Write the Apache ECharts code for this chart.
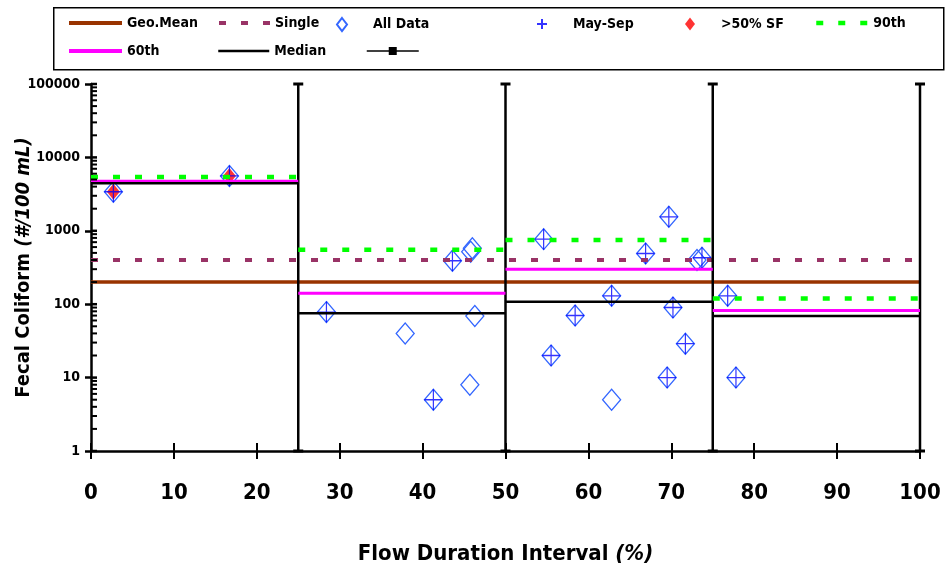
<!DOCTYPE html>
<html>
<head>
<meta charset="utf-8">
<script src="https://cdn.jsdelivr.net/npm/echarts@6/dist/echarts.min.js"></script>
<style>
  html, body { margin: 0; padding: 0; background: #fff; }
  #chart { width: 945px; height: 574px; }
</style>
</head>
<body>
<div id="chart"></div>
<script>
// Flow duration interval boundaries (%)
const intervalEdges = [0, 25, 50, 75, 100];

// Interval statistics (#/100 mL), one value per interval
const p90Values = [5400, 550, 750, 120];
const p60Values = [4750, 141, 300, 82];
const medianValues = [4450, 75, 108, 69];

// Whole-record criteria lines
const geoMeanCriterion = 200;
const singleCriterion = 400;

// Individual samples: flow duration interval (%) and fecal coliform count
const sampleFlow  = [2.7, 16.7, 28.4, 37.9, 41.3, 43.6, 45.7, 45.8, 46.0, 46.3, 54.6, 55.5, 58.4, 62.8, 62.8, 66.9, 69.5, 69.7, 70.2, 71.7, 73.1, 73.7, 76.8, 77.8];
const sampleCount = [3400, 5600, 78, 40, 5, 390, 8, 520, 580, 69, 770, 20, 70, 130, 5, 490, 10, 1550, 90, 29, 400, 430, 130, 10];
// Samples collected May through September
const maySepFlag  = [1, 1, 1, 0, 1, 1, 0, 0, 0, 0, 1, 1, 1, 1, 0, 1, 1, 1, 1, 1, 0, 1, 1, 1];
// Samples whose flow exceeded 50% storm flow
const stormFlag   = [1, 1, 0, 0, 0, 0, 0, 0, 0, 0, 0, 0, 0, 0, 0, 0, 0, 0, 0, 0, 0, 0, 0, 0];

// Y tick labels
const yTicks = [1, 10, 100, 1000, 10000, 100000];

const FONT = '"DejaVu Sans Condensed", "Liberation Sans Narrow", "DejaVu Sans", sans-serif';

// Step segments per interval, broken between intervals
function intervalSegments(values) {
  const out = [];
  values.forEach((v, i) => {
    out.push([intervalEdges[i], v], [intervalEdges[i + 1], v]);
    if (i < values.length - 1) out.push([intervalEdges[i + 1], '-']);
  });
  return out;
}

// Vertical interval boundaries spanning the full y range
function boundarySegments() {
  const out = [];
  intervalEdges.slice(1).forEach((x, i, arr) => {
    out.push([x, yTicks[0]], [x, yTicks[yTicks.length - 1]]);
    if (i < arr.length - 1) out.push([x, '-']);
  });
  return out;
}

const allPoints = sampleFlow.map((x, i) => [x, sampleCount[i]]);
const maySepPoints = allPoints.filter((p, i) => maySepFlag[i]);
const stormPoints = allPoints.filter((p, i) => stormFlag[i]);

// Log-spaced minor ticks (2..9 per decade) plus major ticks on the inner side
const innerTicks = [];
for (let d = 0; d < yTicks.length - 1; d++) {
  for (let m = 1; m <= 9; m++) innerTicks.push([0, m * yTicks[d], m === 1 ? 1 : 0]);
}
innerTicks.push([0, yTicks[yTicks.length - 1], 1]);

const PLUS = 'path://M5,0L5,10M0,5L10,5';

const legendText = { fontFamily: FONT, fontWeight: 'bold', fontSize: 14, color: '#000' };
function legendItem(name, left, top, w, h, pad, lineWidth, hideSymbol) {
  const item = {
    data: [name], left: left, top: top, padding: 0,
    itemWidth: w, itemHeight: h, selectedMode: false,
    textStyle: Object.assign({ padding: [0, 0, 0, pad || 0] }, legendText),
    formatter: n => n.trim()
  };
  if (lineWidth) item.lineStyle = { width: lineWidth };
  if (hideSymbol) item.itemStyle = { opacity: 0 };
  return item;
}

const chart = echarts.init(document.getElementById('chart'));
chart.setOption({
  animation: false,
  backgroundColor: '#fff',
  grid: { left: 91, right: 25, top: 84, bottom: 123, containLabel: false, outerBoundsMode: 'none' },
  graphic: [{
    type: 'rect', left: 53, top: 7, z: -1,
    shape: { width: 890, height: 62 },
    style: { fill: '#fff', stroke: '#000', lineWidth: 1.5 }
  }],
  legend: [
    legendItem('Geo.Mean', 67, 16, 53, 14, 0, 4, true),
    legendItem('Single', 217, 16, 51, 14, 0, 4, true),
    legendItem('All Data', 336, 17, 10, 13, 21),
    legendItem('May-Sep', 536, 17, 10, 13, 21),
    legendItem('>50% SF', 685, 17, 10, 13, 21),
    legendItem('90th', 814, 16, 52, 14, 0, 4.5, true),
    legendItem('60th', 67, 44, 53, 14, 0, 4, true),
    legendItem('Median', 217, 44, 51, 14, 0, 2.5, true),
    legendItem(' ', 366, 46, 52, 10, 0, 1.5)
  ],
  xAxis: [{
    type: 'value', min: 0, max: 100, interval: 10, position: 'bottom',
    name: '{a|Flow Duration Interval }{b|(%)}',
    nameLocation: 'middle', nameGap: 92,
    nameTextStyle: {
      rich: {
        a: { fontFamily: FONT, fontWeight: 'bold', fontSize: 22, color: '#000' },
        b: { fontFamily: FONT, fontWeight: 'bold', fontStyle: 'italic', fontSize: 22, color: '#000' }
      }
    },
    axisLine: { lineStyle: { color: '#000', width: 2.5 } },
    axisTick: { length: 8, lineStyle: { color: '#000', width: 2 } },
    axisLabel: { margin: 31, fontFamily: FONT, fontWeight: 'bold', fontSize: 22, color: '#000' },
    splitLine: { show: false }
  }, {
    type: 'value', min: 0, max: 100, interval: 10, position: 'bottom',
    axisLine: { show: false },
    axisTick: { inside: true, length: 8, lineStyle: { color: '#000', width: 2 } },
    axisLabel: { show: false },
    splitLine: { show: false }
  }],
  yAxis: {
    type: 'log', logBase: 10, min: 1, max: 100000,
    name: '{a|Fecal Coliform }{b|(#/100 mL)}',
    nameLocation: 'middle', nameGap: 57, nameMoveOverlap: false,
    nameTextStyle: {
      rich: {
        a: { fontFamily: FONT, fontWeight: 'bold', fontSize: 20, color: '#000' },
        b: { fontFamily: FONT, fontWeight: 'bold', fontStyle: 'italic', fontSize: 20, color: '#000' }
      }
    },
    axisLine: { show: true, lineStyle: { color: '#000', width: 2.5 } },
    axisTick: { show: true, length: 6, lineStyle: { color: '#000', width: 2.5 } },
    axisLabel: {
      margin: 11, fontFamily: FONT, fontWeight: 'bold', fontSize: 14, color: '#000',
      formatter: v => String(Math.round(v))
    },
    splitLine: { show: false }
  },
  series: [
    {
      name: 'Geo.Mean', type: 'line', showSymbol: false, symbol: 'none',
      data: [[intervalEdges[0], geoMeanCriterion], [intervalEdges[4], geoMeanCriterion]],
      lineStyle: { color: '#993300', width: 3.5 }, itemStyle: { color: '#993300' }
    },
    {
      name: 'Single', type: 'line', showSymbol: false, symbol: 'none',
      data: [[intervalEdges[0], singleCriterion], [intervalEdges[4], singleCriterion]],
      lineStyle: { color: '#993366', width: 4, type: [7, 15] }, itemStyle: { color: '#993366' }
    },
    {
      name: ' ', type: 'line', symbol: 'rect', symbolSize: [10, 3], showSymbol: true,
      data: boundarySegments(),
      lineStyle: { color: '#000', width: 2.5 }, itemStyle: { color: '#000' }
    },
    {
      name: '90th', type: 'line', showSymbol: false, symbol: 'none',
      data: intervalSegments(p90Values),
      lineStyle: { color: '#00FF00', width: 4.5, type: [7, 15] }, itemStyle: { color: '#00FF00' }
    },
    {
      name: '60th', type: 'line', showSymbol: false, symbol: 'none',
      data: intervalSegments(p60Values),
      lineStyle: { color: '#FF00FF', width: 3 }, itemStyle: { color: '#FF00FF' }
    },
    {
      name: 'Median', type: 'line', showSymbol: false, symbol: 'none',
      data: intervalSegments(medianValues),
      lineStyle: { color: '#000', width: 2.5 }, itemStyle: { color: '#000' }
    },
    {
      name: 'All Data', type: 'scatter', symbol: 'diamond', symbolSize: [18, 21],
      data: allPoints,
      itemStyle: { color: 'rgba(0,0,0,0)', borderColor: '#3366FF', borderWidth: 1.3, opacity: 1 }
    },
    {
      name: '>50% SF', type: 'scatter', symbol: 'diamond', symbolSize: [13, 16],
      data: stormPoints,
      itemStyle: { color: '#FF0000', borderWidth: 0 }
    },
    {
      name: 'May-Sep', type: 'scatter', symbol: PLUS, symbolSize: [18, 21], symbolKeepAspect: false,
      data: maySepPoints,
      itemStyle: { color: 'rgba(0,0,0,0)', borderColor: '#0000FF', borderWidth: 1.3 }
    },
    {
      name: 'innerTicks', type: 'custom', silent: true, z: 5,
      data: innerTicks,
      renderItem: function (params, api) {
        const p = api.coord([api.value(0), api.value(1)]);
        const major = api.value(2) === 1;
        return {
          type: 'line',
          shape: { x1: p[0], y1: p[1], x2: p[0] + 6, y2: p[1] },
          style: { stroke: '#000', lineWidth: major ? 2.5 : 2 }
        };
      }
    }
  ]
});
</script>
</body>
</html>
